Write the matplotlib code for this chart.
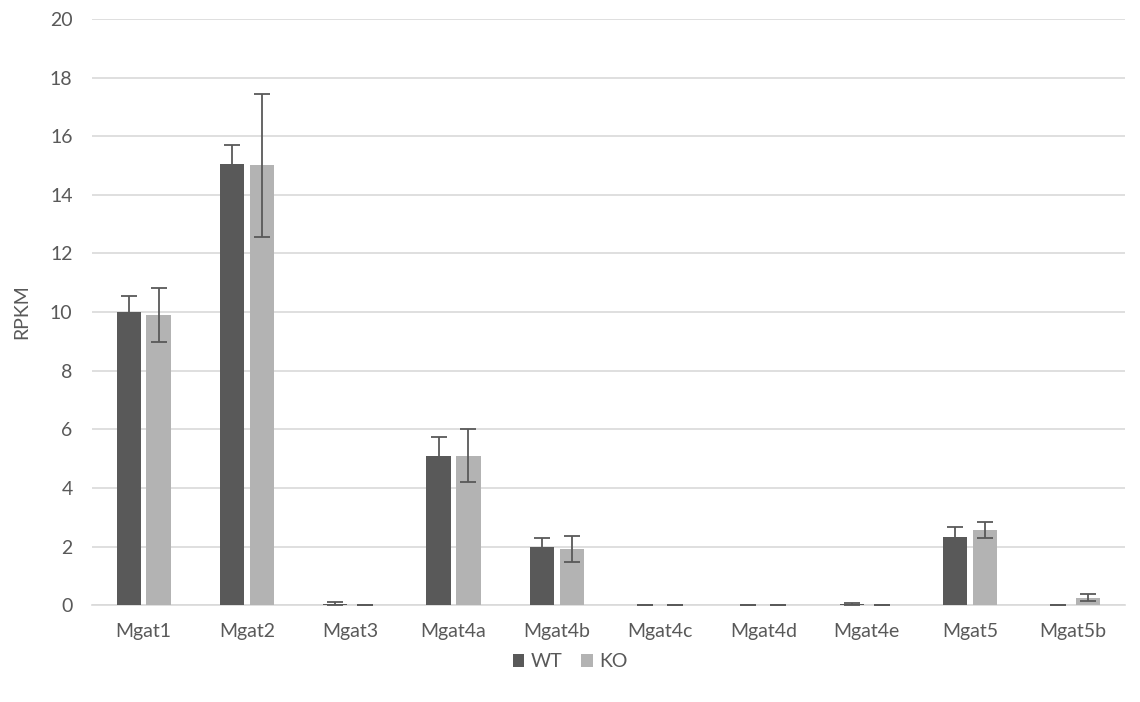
import matplotlib.pyplot as plt
import numpy as np

plt.rcParams["font.family"] = ["Lato", "DejaVu Sans"]

genes = ["Mgat1", "Mgat2", "Mgat3", "Mgat4a", "Mgat4b",
         "Mgat4c", "Mgat4d", "Mgat4e", "Mgat5", "Mgat5b"]
wt = [10.0, 15.05, 0.05, 5.1, 2.0, 0.005, 0.005, 0.05, 2.32, 0.004]
wt_err = [0.55, 0.65, 0.05, 0.65, 0.3, 0.0, 0.0, 0.03, 0.33, 0.0]
ko = [9.9, 15.0, 0.01, 5.1, 1.92, 0.005, 0.005, 0.01, 2.55, 0.25]
ko_err = [0.93, 2.43, 0.0, 0.9, 0.45, 0.0, 0.0, 0.0, 0.27, 0.12]

TEXT = "#595959"


def main():
    fig = plt.figure(figsize=(11.4, 7.02), dpi=100)
    ax = fig.add_axes([0.0807, 0.138, 0.906, 0.835])

    x = np.arange(len(genes))
    w = 0.235
    off = 0.145
    ekw = dict(ecolor="#595959", elinewidth=1.3, capsize=6, capthick=1.3)
    ax.bar(x - off, wt, w, yerr=wt_err, color="#595959", label="WT",
           error_kw=ekw, zorder=3)
    ax.bar(x + off, ko, w, yerr=ko_err, color="#b3b3b3", label="KO",
           error_kw=ekw, zorder=3)

    ax.set_xlim(-0.5, len(genes) - 0.5)
    ax.set_ylim(0, 20)
    ax.set_yticks(np.arange(0, 21, 2))
    ax.set_xticks(x)
    ax.set_xticklabels(genes)
    ax.yaxis.grid(True, color="#d9d9d9", linewidth=1.2, zorder=0)
    ax.set_axisbelow(True)
    for s in ["top", "right", "left"]:
        ax.spines[s].set_visible(False)
    ax.spines["bottom"].set_color("#d9d9d9")
    ax.spines["bottom"].set_linewidth(1.2)
    ax.tick_params(axis="both", length=0, labelsize=14, colors=TEXT)
    ax.tick_params(axis="y", pad=14)
    ax.tick_params(axis="x", pad=13)
    ax.set_ylabel("RPKM", fontsize=14, color=TEXT, labelpad=14)

    fig.legend(loc="center", bbox_to_anchor=(0.5, 0.057), ncol=2,
               frameon=False, fontsize=14, labelcolor=TEXT,
               handlelength=0.6, handleheight=0.6, handletextpad=0.3,
               columnspacing=1.0)

    fig.savefig("out.png")
    plt.close(fig)


if __name__ == "__main__":
    main()
